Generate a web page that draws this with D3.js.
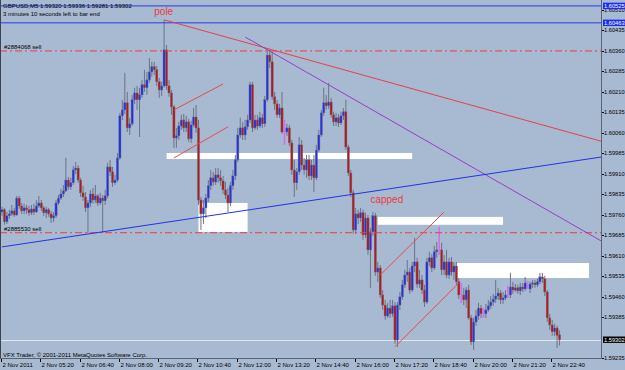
<!DOCTYPE html>
<html>
<head>
<meta charset="utf-8">
<script src="https://cdn.jsdelivr.net/npm/d3@7"></script>
<style>
body { margin: 0; background: #a8b9d2; }
svg { display: block; font-family: "Liberation Sans", Arial, sans-serif; }
</style>
</head>
<body>
<svg id="chart" width="625" height="370"></svg>
<script>
// GBPUSD M5, 2 Nov 2011
var symbol = "GBPUSD,M5";
var countdown = "3 minutes 10 seconds left to bar end";
var copyright = "VFX Trader, \u00a9 2001-2011 MetaQuotes Software Corp.";
var startTime = new Date(2011, 10, 2, 4, 0);
var barMinutes = 5;

// [open, high, low, close], one row per 5 min bar from 04:00
var candles = [
[1.59770,1.59789,1.59756,1.59778],[1.59778,1.59785,1.59723,1.59734],[1.59734,1.59770,1.59726,1.59756],[1.59756,1.59778,1.59745,1.59763],[1.59763,1.59796,1.59756,1.59774],
[1.59774,1.59785,1.59752,1.59759],[1.59759,1.59829,1.59756,1.59821],[1.59821,1.59829,1.59781,1.59792],[1.59792,1.59803,1.59763,1.59774],[1.59774,1.59800,1.59763,1.59785],
[1.59785,1.59796,1.59763,1.59778],[1.59778,1.59792,1.59756,1.59767],[1.59767,1.59796,1.59759,1.59781],[1.59781,1.59800,1.59759,1.59770],[1.59770,1.59814,1.59767,1.59792],
[1.59792,1.59829,1.59785,1.59803],[1.59803,1.59814,1.59774,1.59785],[1.59785,1.59792,1.59756,1.59767],[1.59767,1.59789,1.59748,1.59778],[1.59778,1.59785,1.59752,1.59763],
[1.59763,1.59774,1.59730,1.59748],[1.59748,1.59770,1.59734,1.59756],[1.59756,1.59814,1.59748,1.59803],[1.59803,1.59832,1.59796,1.59821],[1.59821,1.59855,1.59814,1.59836],
[1.59836,1.59869,1.59825,1.59847],[1.59847,1.59968,1.59843,1.59887],[1.59887,1.59898,1.59851,1.59862],[1.59862,1.59895,1.59851,1.59877],[1.59877,1.59939,1.59869,1.59924],
[1.59924,1.59953,1.59909,1.59931],[1.59931,1.59942,1.59877,1.59887],[1.59887,1.59895,1.59825,1.59840],[1.59840,1.59866,1.59811,1.59825],[1.59825,1.59843,1.59770,1.59785],
[1.59785,1.59814,1.59693,1.59803],[1.59803,1.59851,1.59789,1.59836],[1.59836,1.59858,1.59800,1.59814],[1.59814,1.59869,1.59803,1.59829],[1.59829,1.59836,1.59792,1.59803],
[1.59803,1.59840,1.59796,1.59821],[1.59821,1.59832,1.59693,1.59811],[1.59811,1.59851,1.59796,1.59829],[1.59829,1.59950,1.59821,1.59935],[1.59935,1.59961,1.59902,1.59917],
[1.59917,1.59935,1.59862,1.59877],[1.59877,1.59906,1.59869,1.59887],[1.59887,1.59986,1.59880,1.59968],[1.59968,1.60133,1.59961,1.60122],[1.60122,1.60181,1.60107,1.60144],
[1.60144,1.60280,1.60129,1.60170],[1.60170,1.60210,1.60063,1.60078],[1.60078,1.60115,1.60052,1.60093],[1.60093,1.60199,1.60085,1.60181],[1.60181,1.60225,1.60166,1.60206],
[1.60206,1.60232,1.60144,1.60181],[1.60181,1.60225,1.60045,1.60199],[1.60199,1.60254,1.60188,1.60236],[1.60236,1.60291,1.60210,1.60225],[1.60225,1.60283,1.60199,1.60254],
[1.60254,1.60334,1.60243,1.60283],[1.60283,1.60320,1.60265,1.60302],[1.60302,1.60320,1.60272,1.60291],[1.60291,1.60305,1.60232,1.60247],[1.60247,1.60261,1.60188,1.60217],
[1.60217,1.60247,1.60195,1.60232],[1.60232,1.60474,1.60225,1.60364],[1.60364,1.60382,1.60217,1.60232],[1.60232,1.60254,1.60192,1.60206],[1.60206,1.60217,1.60126,1.60155],
[1.60155,1.60162,1.60005,1.60041],[1.60041,1.60078,1.60005,1.60049],[1.60049,1.60100,1.60034,1.60085],[1.60085,1.60126,1.60071,1.60107],[1.60107,1.60129,1.60063,1.60078],
[1.60078,1.60122,1.60063,1.60100],[1.60100,1.60111,1.60027,1.60038],[1.60038,1.60104,1.60023,1.60089],[1.60089,1.60151,1.60082,1.60118],[1.60118,1.60162,1.60060,1.60078],
[1.60078,1.60107,1.59796,1.59814],[1.59814,1.59825,1.59704,1.59763],[1.59763,1.59814,1.59726,1.59785],[1.59785,1.59836,1.59748,1.59821],[1.59821,1.59887,1.59807,1.59866],
[1.59866,1.59924,1.59851,1.59895],[1.59895,1.59917,1.59866,1.59880],[1.59880,1.59931,1.59869,1.59906],[1.59906,1.59931,1.59877,1.59895],[1.59895,1.59924,1.59866,1.59884],
[1.59884,1.59902,1.59836,1.59851],[1.59851,1.59880,1.59818,1.59832],[1.59832,1.59858,1.59770,1.59803],[1.59803,1.59880,1.59792,1.59866],[1.59866,1.59924,1.59851,1.59902],
[1.59902,1.59979,1.59887,1.59961],[1.59961,1.60078,1.59953,1.60052],[1.60052,1.60115,1.60041,1.60078],[1.60078,1.60100,1.60034,1.60052],[1.60052,1.60107,1.60034,1.60082],
[1.60082,1.60126,1.60071,1.60107],[1.60107,1.60247,1.60096,1.60236],[1.60236,1.60247,1.60063,1.60078],[1.60078,1.60126,1.60071,1.60107],[1.60107,1.60126,1.60071,1.60085],
[1.60085,1.60137,1.60078,1.60115],[1.60115,1.60129,1.60078,1.60093],[1.60093,1.60195,1.60082,1.60181],[1.60181,1.60371,1.60173,1.60345],[1.60345,1.60364,1.60298,1.60320],
[1.60320,1.60356,1.60181,1.60192],[1.60192,1.60210,1.60144,1.60166],[1.60166,1.60181,1.60115,1.60126],[1.60126,1.60166,1.60115,1.60151],[1.60151,1.60210,1.60056,1.60063],
[1.60063,1.60107,1.60016,1.60063],[1.60063,1.60093,1.60049,1.60078],[1.60078,1.60089,1.60012,1.60023],[1.60023,1.60034,1.59906,1.59924],[1.59924,1.59961,1.59825,1.59877],
[1.59877,1.59931,1.59851,1.59917],[1.59917,1.60045,1.59906,1.60016],[1.60016,1.60034,1.59924,1.59942],[1.59942,1.59968,1.59906,1.59924],[1.59924,1.59979,1.59895,1.59961],
[1.59961,1.59979,1.59887,1.59902],[1.59902,1.59961,1.59887,1.59942],[1.59942,1.59979,1.59843,1.59895],[1.59895,1.60016,1.59887,1.59997],[1.59997,1.60071,1.59990,1.60052],
[1.60052,1.60144,1.60045,1.60133],[1.60133,1.60225,1.60122,1.60170],[1.60170,1.60199,1.60144,1.60159],[1.60159,1.60243,1.60148,1.60173],[1.60173,1.60188,1.60115,1.60126],
[1.60126,1.60137,1.60085,1.60100],[1.60100,1.60133,1.60085,1.60115],[1.60115,1.60129,1.60082,1.60096],[1.60096,1.60137,1.60089,1.60122],[1.60122,1.60151,1.60107,1.60137],
[1.60137,1.60181,1.59997,1.60008],[1.60008,1.60016,1.59902,1.59913],[1.59913,1.59924,1.59825,1.59840],[1.59840,1.59851,1.59690,1.59704],[1.59704,1.59785,1.59690,1.59763],
[1.59763,1.59778,1.59726,1.59748],[1.59748,1.59785,1.59734,1.59767],[1.59767,1.59778,1.59668,1.59686],[1.59686,1.59767,1.59675,1.59748],[1.59748,1.59759,1.59613,1.59631],
[1.59631,1.59712,1.59492,1.59697],[1.59697,1.59770,1.59682,1.59756],[1.59756,1.59767,1.59536,1.59550],[1.59550,1.59587,1.59514,1.59565],[1.59565,1.59576,1.59455,1.59466],
[1.59466,1.59484,1.59411,1.59429],[1.59429,1.59448,1.59375,1.59389],[1.59389,1.59437,1.59382,1.59418],[1.59418,1.59448,1.59382,1.59397],[1.59397,1.59448,1.59386,1.59426],
[1.59426,1.59440,1.59287,1.59301],[1.59301,1.59440,1.59276,1.59429],[1.59429,1.59477,1.59411,1.59459],[1.59459,1.59521,1.59448,1.59503],[1.59503,1.59558,1.59492,1.59539],
[1.59539,1.59594,1.59514,1.59550],[1.59550,1.59565,1.59470,1.59484],[1.59484,1.59587,1.59477,1.59572],[1.59572,1.59675,1.59550,1.59587],[1.59587,1.59602,1.59492,1.59506],
[1.59506,1.59558,1.59492,1.59521],[1.59521,1.59539,1.59470,1.59484],[1.59484,1.59503,1.59422,1.59440],[1.59440,1.59602,1.59433,1.59587],[1.59587,1.59624,1.59572,1.59602],
[1.59602,1.59616,1.59550,1.59565],[1.59565,1.59646,1.59558,1.59624],[1.59624,1.59660,1.59602,1.59631],[1.59631,1.59715,1.59613,1.59631],[1.59631,1.59657,1.59539,1.59558],
[1.59558,1.59613,1.59539,1.59587],[1.59587,1.59631,1.59528,1.59539],[1.59539,1.59602,1.59525,1.59587],[1.59587,1.59605,1.59536,1.59550],[1.59550,1.59587,1.59521,1.59572],
[1.59572,1.59587,1.59503,1.59514],[1.59514,1.59528,1.59451,1.59466],[1.59466,1.59510,1.59437,1.59466],[1.59466,1.59492,1.59429,1.59448],[1.59448,1.59495,1.59418,1.59484],
[1.59484,1.59503,1.59375,1.59382],[1.59382,1.59393,1.59283,1.59294],[1.59294,1.59382,1.59265,1.59367],[1.59367,1.59411,1.59353,1.59389],[1.59389,1.59437,1.59375,1.59418],
[1.59418,1.59429,1.59382,1.59397],[1.59397,1.59418,1.59382,1.59397],[1.59397,1.59433,1.59382,1.59411],[1.59411,1.59448,1.59404,1.59426],[1.59426,1.59462,1.59415,1.59440],
[1.59440,1.59470,1.59426,1.59451],[1.59451,1.59521,1.59437,1.59462],[1.59462,1.59492,1.59448,1.59473],[1.59473,1.59484,1.59433,1.59448],[1.59448,1.59477,1.59433,1.59455],
[1.59455,1.59484,1.59448,1.59466],[1.59466,1.59499,1.59455,1.59466],[1.59466,1.59547,1.59455,1.59495],[1.59495,1.59514,1.59470,1.59484],[1.59484,1.59506,1.59477,1.59492],
[1.59492,1.59503,1.59470,1.59481],[1.59481,1.59510,1.59466,1.59495],[1.59495,1.59510,1.59477,1.59488],[1.59488,1.59532,1.59481,1.59510],[1.59503,1.59517,1.59488,1.59503],
[1.59488,1.59514,1.59473,1.59506],[1.59506,1.59521,1.59492,1.59510],[1.59510,1.59521,1.59492,1.59503],[1.59503,1.59525,1.59495,1.59514],[1.59514,1.59547,1.59506,1.59532],
[1.59532,1.59547,1.59510,1.59525],[1.59525,1.59536,1.59462,1.59477],[1.59477,1.59484,1.59367,1.59382],[1.59382,1.59397,1.59338,1.59356],[1.59356,1.59375,1.59316,1.59331],
[1.59331,1.59360,1.59316,1.59345],[1.59345,1.59353,1.59272,1.59318],[1.59320,1.59336,1.59281,1.59302]
];

var priceTicks = [1.60510,1.60435,1.60360,1.60285,1.60210,1.60135,1.60060,1.59985,1.59910,1.59835,1.59760,1.59685,1.59610,1.59535,1.59460,1.59385,1.59235];
var timeTicks = ["04:00","05:20","06:40","08:00","09:20","10:40","12:00","13:20","14:40","16:00","17:20","18:40","20:00","21:20","22:40"];
var timeLabels = ["2 Nov 2011","2 Nov 05:20","2 Nov 06:40","2 Nov 08:00","2 Nov 09:20","2 Nov 10:40","2 Nov 12:00","2 Nov 13:20","2 Nov 14:40","2 Nov 16:00","2 Nov 17:20","2 Nov 18:40","2 Nov 20:00","2 Nov 21:20","2 Nov 22:40"];

var blueLevels = [1.60525, 1.60463];
var orderLevels = [1.60360, 1.59694];
var orderNames = ["#2884068 sell", "#2885530 sell"];
var bidPrice = 1.59302;

// trend lines [[time, price], [time, price]]; rays run on to the right edge
var rays = [
    [["09:30", 1.60474], ["13:10", 1.60364]],   // red, from the pole
    [["12:15", 1.60411], ["18:10", 1.60045]],   // purple
    [["04:00", 1.59642], ["12:20", 1.59777]]    // blue
];
var segments = [
    [["09:50", 1.60144], ["11:30", 1.60239]],
    [["09:50", 1.59968], ["11:40", 1.60082]],
    [["16:50", 1.59539], ["19:00", 1.59770]],
    [["17:20", 1.59276], ["19:30", 1.59510]]
];
// rectangles [time1, time2, price1, price2]
var boxes = [
    ["09:35", "17:55", 1.59986, 1.59964],
    ["10:40", "12:20", 1.59803, 1.59697],
    ["16:45", "21:00", 1.59752, 1.59723],
    ["19:25", "23:55", 1.59583, 1.59528]
];
var notes = [
    {text: "pole", time: "09:10", price: 1.60490},
    {text: "capped", time: "16:30", price: 1.59803}
];

function at(hhmm) {
    var p = hhmm.split(":");
    return new Date(2011, 10, 2, +p[0], +p[1]);
}

var W = 625, H = 370,
    plotRight = 601, plotBottom = 358,
    bg = "#a8b9d2";

var x = d3.scaleTime()
    .domain([startTime, new Date(+startTime + 244 * barMinutes * 60000)])
    .range([2, 601.3]);
var y = d3.scaleLinear().domain([1.59235, 1.60510]).range([358, 10]);

var svg = d3.select("#chart");
svg.append("rect").attr("width", W).attr("height", H).attr("fill", bg);

svg.append("clipPath").attr("id", "plot")
    .append("rect").attr("x", 0).attr("y", 0).attr("width", plotRight).attr("height", plotBottom);

var plot = svg.append("g").attr("clip-path", "url(#plot)");

// white zones
plot.selectAll(".box").data(boxes).enter().append("rect")
    .attr("x", function (d) { return x(at(d[0])); })
    .attr("y", function (d) { return y(d[2]); })
    .attr("width", function (d) { return x(at(d[1])) - x(at(d[0])); })
    .attr("height", function (d) { return y(d[3]) - y(d[2]); })
    .attr("fill", "#ffffff");

// bid line
plot.append("line")
    .attr("x1", 0).attr("x2", plotRight)
    .attr("y1", Math.round(y(bidPrice)) + 0.5).attr("y2", Math.round(y(bidPrice)) + 0.5)
    .attr("stroke", "#e4e8ee").attr("stroke-width", 1);

// candles
var bars = candles.map(function (c, i) {
    return {t: new Date(+startTime + i * barMinutes * 60000), o: c[0], h: c[1], l: c[2], c: c[3]};
});
var cg = plot.append("g");
bars.forEach(function (b) {
    var cx = x(b.t);
    if (b.o === b.c) {
        cg.append("rect").attr("x", cx - 0.8).attr("width", 1.6)
            .attr("y", y(b.h)).attr("height", y(b.l) - y(b.h))
            .attr("fill", "#d36ee6");
        return;
    }
    cg.append("line").attr("x1", cx).attr("x2", cx)
        .attr("y1", y(b.h)).attr("y2", y(b.l))
        .attr("stroke", "#6c7484").attr("stroke-width", 1);
    var top = y(Math.max(b.o, b.c)), bot = y(Math.min(b.o, b.c));
    cg.append("rect").attr("x", cx - 1.1).attr("width", 2.2)
        .attr("y", top).attr("height", Math.max(1, bot - top))
        .attr("fill", b.c > b.o ? "#2432e0" : "#b01c1c")
        .attr("stroke", "#6c7484").attr("stroke-width", 0.4);
});

// horizontal blue levels
plot.selectAll(".lvl").data(blueLevels).enter().append("line")
    .attr("x1", 0).attr("x2", plotRight)
    .attr("y1", function (d) { return y(d); }).attr("y2", function (d) { return y(d); })
    .attr("stroke", "#2a3ae0").attr("stroke-width", 1);

// order lines
plot.selectAll(".ord").data(orderLevels).enter().append("line")
    .attr("x1", 0).attr("x2", plotRight)
    .attr("y1", function (d) { return y(d); }).attr("y2", function (d) { return y(d); })
    .attr("stroke", "#f03c3c").attr("stroke-width", 1)
    .attr("stroke-dasharray", "7,3,2,3");

// trend lines
var rayColors = ["#e8404a", "#9a3cc8", "#2232e6"];
rays.forEach(function (r, i) {
    var x1 = x(at(r[0][0])), y1 = y(r[0][1]), x2 = x(at(r[1][0])), y2 = y(r[1][1]);
    var k = (y2 - y1) / (x2 - x1);
    plot.append("line")
        .attr("x1", x1).attr("y1", y1)
        .attr("x2", plotRight).attr("y2", y1 + (plotRight - x1) * k)
        .attr("stroke", rayColors[i]).attr("stroke-width", 1);
});
segments.forEach(function (s) {
    plot.append("line")
        .attr("x1", x(at(s[0][0]))).attr("y1", y(s[0][1]))
        .attr("x2", x(at(s[1][0]))).attr("y2", y(s[1][1]))
        .attr("stroke", "#ec4a4a").attr("stroke-width", 1);
});

// text on the chart
var small = "6px";
plot.selectAll(".note").data(notes).enter().append("text")
    .attr("x", function (d) { return x(at(d.time)); })
    .attr("y", function (d) { return y(d.price); })
    .attr("font-size", "10px").attr("fill", "#ee3a3a")
    .text(function (d) { return d.text; });

plot.selectAll(".ordtxt").data(orderLevels).enter().append("text")
    .attr("x", 4).attr("y", function (d) { return y(d) - 2; })
    .attr("font-size", small).attr("fill", "#000")
    .text(function (d, i) { return orderNames[i]; });

var last = candles[candles.length - 1];
plot.append("text").attr("x", 3).attr("y", 8).attr("font-size", small)
    .text(symbol + "  " + last.map(function (v) { return v.toFixed(5); }).join(" "));
plot.append("text").attr("x", 3).attr("y", 15.5).attr("font-size", small).text(countdown);
plot.append("text").attr("x", 3).attr("y", 356.5).attr("font-size", small).text(copyright);

// frame
svg.append("line").attr("x1", 0.5).attr("x2", 0.5).attr("y1", 0).attr("y2", plotBottom)
    .attr("stroke", "#3c4452");
svg.append("line").attr("x1", plotRight + 0.5).attr("x2", plotRight + 0.5).attr("y1", 0).attr("y2", plotBottom + 0.5)
    .attr("stroke", "#5c6474");
svg.append("line").attr("x1", 0).attr("x2", plotRight + 1).attr("y1", plotBottom + 0.5).attr("y2", plotBottom + 0.5)
    .attr("stroke", "#5c6474");

// price scale
var axis = svg.append("g");
var fmt = d3.format(".5f");
priceTicks.forEach(function (p) {
    axis.append("line").attr("x1", plotRight + 1).attr("x2", plotRight + 3)
        .attr("y1", Math.round(y(p)) + 0.5).attr("y2", Math.round(y(p)) + 0.5).attr("stroke", "#000");
    axis.append("text").attr("x", 604).attr("y", y(p)).attr("dy", "0.35em")
        .attr("font-size", "5.7px").text(fmt(p));
});
function priceTag(p, fill) {
    axis.append("rect").attr("x", 603).attr("y", y(p) - 3.2).attr("width", 22).attr("height", 6.4).attr("fill", fill);
    axis.append("text").attr("x", 604).attr("y", y(p)).attr("dy", "0.35em")
        .attr("font-size", "5.7px").attr("fill", "#fff").text(fmt(p));
}
blueLevels.forEach(function (p) { priceTag(p, "#1c2cf0"); });
priceTag(bidPrice, "#000");

// time scale
timeTicks.forEach(function (t, i) {
    var tx = Math.round(x(at(t))) - 0.5;
    axis.append("line").attr("x1", tx).attr("x2", tx).attr("y1", plotBottom + 1).attr("y2", plotBottom + 4).attr("stroke", "#000");
    axis.append("text").attr("x", tx + 1).attr("y", 367).attr("font-size", small).text(timeLabels[i]);
});
</script>
</body>
</html>
